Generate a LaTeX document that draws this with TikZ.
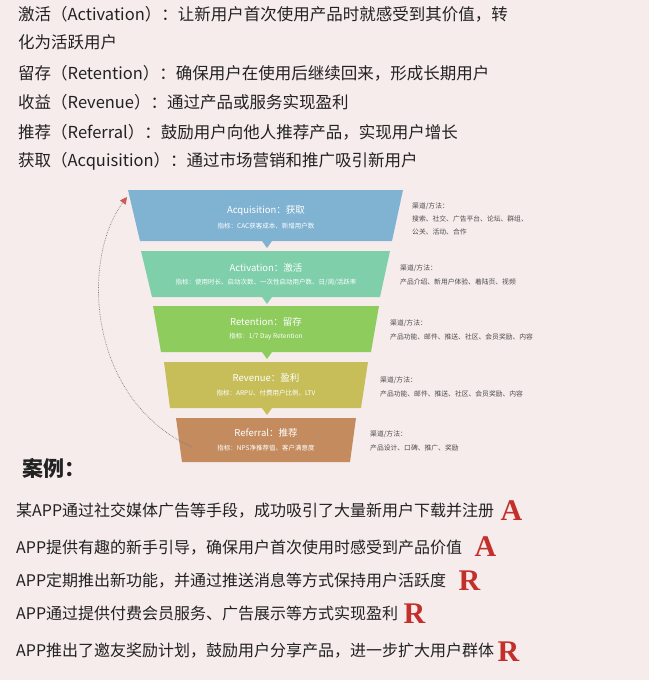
\documentclass[tikz,border=0pt]{standalone}
\usepackage{fontspec}
\setmainfont{Noto Sans CJK SC}
\newfontfamily\serifL{Liberation Serif}
\usetikzlibrary{arrows.meta}
\definecolor{bg}{HTML}{F7ECEC}
\definecolor{txt}{HTML}{222222}
\definecolor{redL}{HTML}{C3302B}
\definecolor{cA}{HTML}{80B2D2}
\definecolor{cB}{HTML}{7ECFAA}
\definecolor{cC}{HTML}{8ECC5E}
\definecolor{cD}{HTML}{C7BE5A}
\definecolor{cE}{HTML}{C38B5E}
\begin{document}
\begin{tikzpicture}[x=1pt,y=-1pt,
  body/.style={anchor=base west,inner sep=0,text=txt,font=\fontsize{16.5}{18}\selectfont},
  cbody/.style={anchor=base west,inner sep=0,text=txt,font=\fontsize{16}{18}\selectfont},
  ftitle/.style={text=white,inner sep=0,font=\fontsize{9.5}{10}\selectfont},
  fsub/.style={text=white,inner sep=0,font=\fontsize{6.5}{7}\selectfont},
  side/.style={anchor=base west,inner sep=0,text=black!70,font=\fontsize{6.8}{8}\selectfont,align=left},
  letter/.style={anchor=base west,inner sep=0,text=redL,font=\serifL\bfseries\fontsize{30}{30}\selectfont}]
\fill[bg] (0,0) rectangle (649,680);
\useasboundingbox (0,0) rectangle (649,680);
% top text
\node[body] (t1) at (18,20) {激活（Activation）：让新用户首次使用产品时就感受到其价值，转};
\node[body] (t2) at (18,48) {化为活跃用户};
\node[body] (t3) at (18,79) {留存（Retention）：确保用户在使用后继续回来，形成长期用户};
\node[body] (t4) at (18,108) {收益（Revenue）：通过产品或服务实现盈利};
\node[body] (t5) at (18,138) {推荐（Referral）：鼓励用户向他人推荐产品，实现用户增长};
\node[body] (t6) at (18,166) {获取（Acquisition）：通过市场营销和推广吸引新用户};
% funnel
\fill[cA] (128,190) -- (403,190) -- (392,241) -- (272,241) -- (267,248) -- (262,241) -- (140,241) -- cycle;
\fill[cB] (141,251) -- (390,251) -- (380,297) -- (272,297) -- (267,304) -- (262,297) -- (152,297) -- cycle;
\fill[cC] (153,306) -- (379,306) -- (371,352) -- (272,352) -- (267,359) -- (262,352) -- (161,352) -- cycle;
\fill[cD] (164,362) -- (368,362) -- (361,408) -- (272,408) -- (267,415) -- (262,408) -- (170,408) -- cycle;
\fill[cE] (176,418) -- (356,418) -- (350,462) -- (182,462) -- cycle;
\node[ftitle] (a1) at (266,211) {Acquisition：获取};
\node[fsub] (a2) at (266,226) {指标：CAC获客成本、新增用户数};
\node[ftitle] (b1) at (266,268) {Activation：激活};
\node[fsub] (b2) at (266,282) {指标：使用时长、启动次数、一次性启动用户数、日/周/活跃率};
\node[ftitle] (c1) at (266,322) {Retention：留存};
\node[fsub] (c2) at (266,337) {指标：1/7 Day Retention};
\node[ftitle] (d1) at (266,378) {Revenue：盈利};
\node[fsub] (d2) at (266,393) {指标：ARPU、付费用户比例、LTV};
\node[ftitle] (e1) at (266,433) {Referral：推荐};
\node[fsub] (e2) at (266,448) {指标：NPS净推荐值、客户满意度};
% side texts
\node[side] (s1) at (412,208) {渠道/方法：};
\node[side] (s1b) at (412,221) {搜索、社交、广告平台、论坛、群组、};
\node[side] (s1c) at (412,234) {公关、活动、合作};
\node[side] (s2) at (400,270) {渠道/方法：};
\node[side] (s2b) at (400,284) {产品介绍、新用户体验、着陆页、视频};
\node[side] (s3) at (390,325) {渠道/方法：};
\node[side] (s3b) at (390,339) {产品功能、邮件、推送、社区、会员奖励、内容};
\node[side] (s4) at (380,382) {渠道/方法：};
\node[side] (s4b) at (380,396) {产品功能、邮件、推送、社区、会员奖励、内容};
\node[side] (s5) at (370,436) {渠道/方法：};
\node[side] (s5b) at (370,450) {产品设计、口碑、推广、奖励};
% loop arrow
\coordinate (ls) at (192,447);
\coordinate (le) at (127,197);
\draw[densely dotted,gray,line width=0.7pt,-{Triangle[length=7pt,width=7pt,color=redL!80]}]
  (ls) .. controls (88,400) and (80,260) .. (le);
% cases
\node[body,font=\bfseries\fontsize{21}{22}\selectfont] (k) at (22,476) {案例：};
\node[cbody] (c1l) at (16,516) {某APP通过社交媒体广告等手段，成功吸引了大量新用户下载并注册};
\node[letter] (L1) at ([xshift=6pt,yshift=-4pt]c1l.base east) {A};
\node[cbody] (c2l) at (16,553) {APP提供有趣的新手引导，确保用户首次使用时感受到产品价值};
\node[letter] (L2) at ([xshift=12pt,yshift=-3pt]c2l.base east) {A};
\node[cbody] (c3l) at (16,586) {APP定期推出新功能，并通过推送消息等方式保持用户活跃度};
\node[letter] (L3) at ([xshift=12pt,yshift=-4pt]c3l.base east) {R};
\node[cbody] (c4l) at (16,619) {APP通过提供付费会员服务、广告展示等方式实现盈利};
\node[letter] (L4) at ([xshift=5pt,yshift=-4pt]c4l.base east) {R};
\node[cbody] (c5l) at (16,656) {APP推出了邀友奖励计划，鼓励用户分享产品，进一步扩大用户群体};
\node[letter] (L5) at ([xshift=3pt,yshift=-5pt]c5l.base east) {R};
\end{tikzpicture}
\end{document}
